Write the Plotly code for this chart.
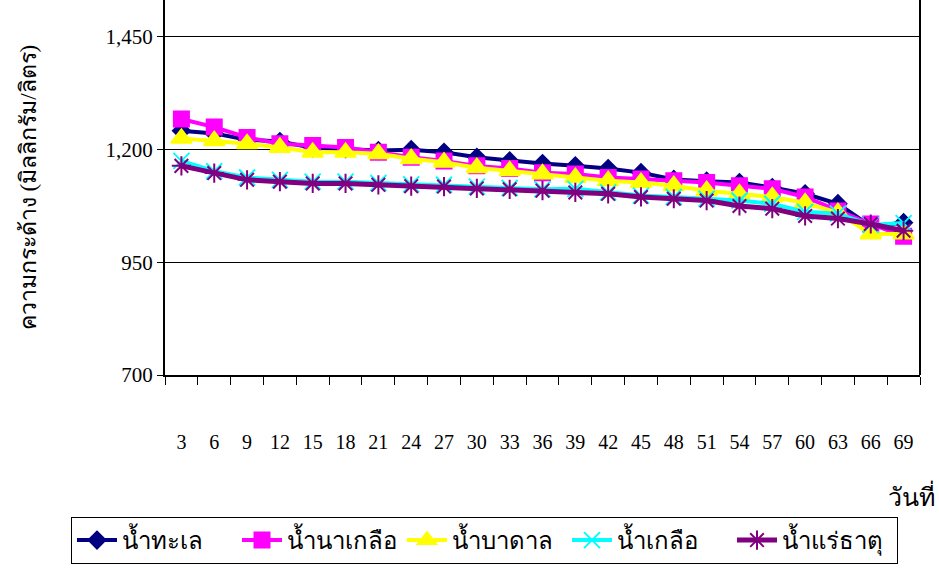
import plotly.graph_objects as go

days = ["3", "6", "9", "12", "15", "18", "21", "24", "27", "30", "33", "36",
        "39", "42", "45", "48", "51", "54", "57", "60", "63", "66", "69"]

sea_water = [1242, 1236, 1222, 1218, 1204, 1202, 1198, 1200, 1194, 1183, 1175, 1169,
             1164, 1158, 1149, 1134, 1130, 1127, 1116, 1102, 1080, 1030, 1038]
salt_field_water = [1268, 1250, 1227, 1213, 1209, 1205, 1194, 1183, 1175, 1164, 1158, 1149,
                    1146, 1138, 1135, 1131, 1127, 1120, 1113, 1095, 1064, 1035, 1008]
ground_water = [1225, 1220, 1213, 1205, 1194, 1194, 1191, 1180, 1172, 1160, 1153, 1146,
                1138, 1131, 1127, 1120, 1109, 1102, 1095, 1082, 1060, 1013, 1013]
brine = [1175, 1152, 1138, 1133, 1129, 1129, 1126, 1123, 1122, 1118, 1115, 1112,
         1113, 1105, 1098, 1095, 1091, 1087, 1080, 1062, 1058, 1033, 1037]
mineral_water = [1164, 1148, 1133, 1129, 1125, 1125, 1122, 1119, 1118, 1114, 1112, 1109,
                 1105, 1102, 1095, 1091, 1087, 1075, 1069, 1053, 1047, 1035, 1020]

series_names = ["น้ำทะเล", "น้ำนาเกลือ", "น้ำบาดาล", "น้ำเกลือ", "น้ำแร่ธาตุ"]
y_ticks = [700, 950, 1200, 1450]
y_tick_text = ["700", "950", "1,200", "1,450"]

styles = [
    dict(color="#000080", symbol="diamond", size=13, lw=4),
    dict(color="#FF00FF", symbol="square", size=15, lw=4),
    dict(color="#FFFF00", symbol="triangle-up", size=18, lw=4),
    dict(color="#00FFFF", symbol="x-thin-open", size=16, lw=4),
    dict(color="#800080", symbol="asterisk-open", size=16, lw=5),
]

serif = "Liberation Serif, Times New Roman, serif"

fig = go.Figure()
for name, values, st in zip(series_names,
                            [sea_water, salt_field_water, ground_water, brine, mineral_water],
                            styles):
    fig.add_trace(go.Scatter(
        x=days, y=values, name=name, mode="lines+markers",
        line=dict(color=st["color"], width=st["lw"]),
        marker=dict(symbol=st["symbol"], size=st["size"], color=st["color"],
                    line=dict(color=st["color"], width=2)),
    ))

fig.update_layout(
    width=939, height=580,
    margin=dict(l=165, r=19, t=0, b=205),
    paper_bgcolor="white", plot_bgcolor="white",
    font=dict(family=serif, size=21, color="black"),
    showlegend=True,
    legend=dict(
        orientation="h", xref="paper", yref="paper",
        x=-0.1245, y=-0.3787, xanchor="left", yanchor="top",
        bordercolor="black", borderwidth=1, bgcolor="white",
        font=dict(family=serif, size=24, color="black"),
        itemwidth=40, tracegroupgap=0,
        entrywidth=110, entrywidthmode="pixels",
    ),
    xaxis=dict(
        type="category", range=[-0.5, 22.5], tickson="boundaries",
        ticks="outside", ticklen=8, tickangle=0,
        tickcolor="black", showline=True, linecolor="black", linewidth=2,
        showgrid=False, ticklabelstandoff=48,
        tickfont=dict(family=serif, size=20),
    ),
    yaxis=dict(
        range=[700, 1532], tickvals=y_ticks, ticktext=y_tick_text,
        ticks="outside", ticklen=6, tickcolor="black",
        showline=True, linecolor="black", linewidth=2,
        showgrid=True, gridcolor="black", gridwidth=1, zeroline=False,
        tickfont=dict(family=serif, size=21),
        title=dict(text="ความกระด้าง (มิลลิกรัม/ลิตร)", standoff=62,
                   font=dict(family=serif, size=23)),
    ),
)

# right border of the plotting area
fig.add_shape(type="line", xref="paper", yref="paper", x0=1, x1=1, y0=0, y1=1,
              line=dict(color="black", width=2))

fig.add_annotation(text="วันที่", xref="paper", yref="paper", x=1.022, y=-0.32,
                   xanchor="right", yanchor="middle", showarrow=False,
                   font=dict(family=serif, size=25))

fig.write_html("out.html")
